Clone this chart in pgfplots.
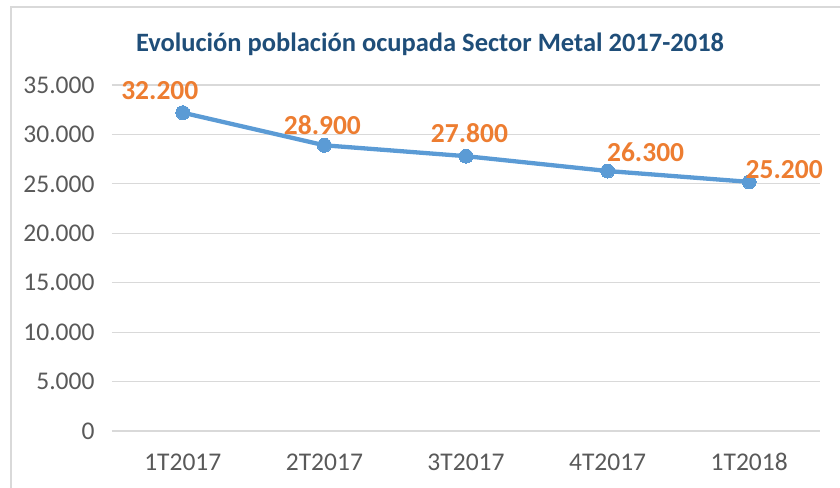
\documentclass[border=0pt]{standalone}
\usepackage{pgfplots}
\pgfplotsset{compat=1.18}
\usepackage{pgfplotstable}
\usepackage{fontspec}
\setmainfont{Carlito}
\definecolor{linblue}{RGB}{91,155,213}
\definecolor{lblorange}{RGB}{237,125,49}
\definecolor{titblue}{RGB}{31,78,121}
\definecolor{gridgray}{RGB}{217,217,217}
\definecolor{tickgray}{RGB}{89,89,89}
\pgfplotstableread{
x y dx dy
0 32200 -23 13.4
1 28900 -2 11
2 27800 3.5 14
3 26300 38 10
4 25200 35 3
}\datatab
\begin{document}
\begin{tikzpicture}[x=1pt,y=1pt]
\useasboundingbox (0,0) rectangle (840,-487);
\draw[gridgray,line width=1.5pt] (11,-500) -- (11,-7) -- (850,-7);
\node[font=\fontsize{26.5}{30}\selectfont\bfseries,text=titblue,anchor=base] at (430,-52) {Evolución población ocupada Sector Metal 2017-2018};
\begin{axis}[
  at={(112pt,-431pt)}, anchor=south west,
  scale only axis, width=708pt, height=346pt,
  xmin=-0.5, xmax=4.5, ymin=0, ymax=35000,
  axis line style={draw=none},
  ytick={0,5000,...,35000},
  xtick={0,1,2,3,4},
  xticklabels={1T2017,2T2017,3T2017,4T2017,1T2018},
  major tick length=0pt,
  ymajorgrids, grid style={gridgray,line width=1.2pt},
  tick label style={font=\fontsize{25.5}{30}\selectfont,text=tickgray},
  /pgf/number format/assume math mode=true,
  scaled y ticks=false,
  yticklabel={\pgfmathprintnumber[1000 sep={.}]{\tick}},
  xticklabel style={yshift=-19pt},
  yticklabel style={xshift=-14pt},
  clip=false,
]
\addplot[linblue, line width=4.3pt, mark=*, mark size=7pt, mark options={fill=linblue,draw=linblue,line width=0pt},
  visualization depends on={\thisrow{dx}\as\dx},
  visualization depends on={\thisrow{dy}\as\dy},
  nodes near coords={\pgfmathprintnumber[1000 sep={.},assume math mode=true]{\pgfplotspointmeta}},
  point meta=explicit,
  nodes near coords style={font=\fontsize{27.5}{32}\selectfont\bfseries,text=lblorange,anchor=base,inner sep=0pt,xshift=\dx pt,yshift=\dy pt},
] table[x=x,y=y,meta=y] {\datatab};
\end{axis}
\end{tikzpicture}
\end{document}
